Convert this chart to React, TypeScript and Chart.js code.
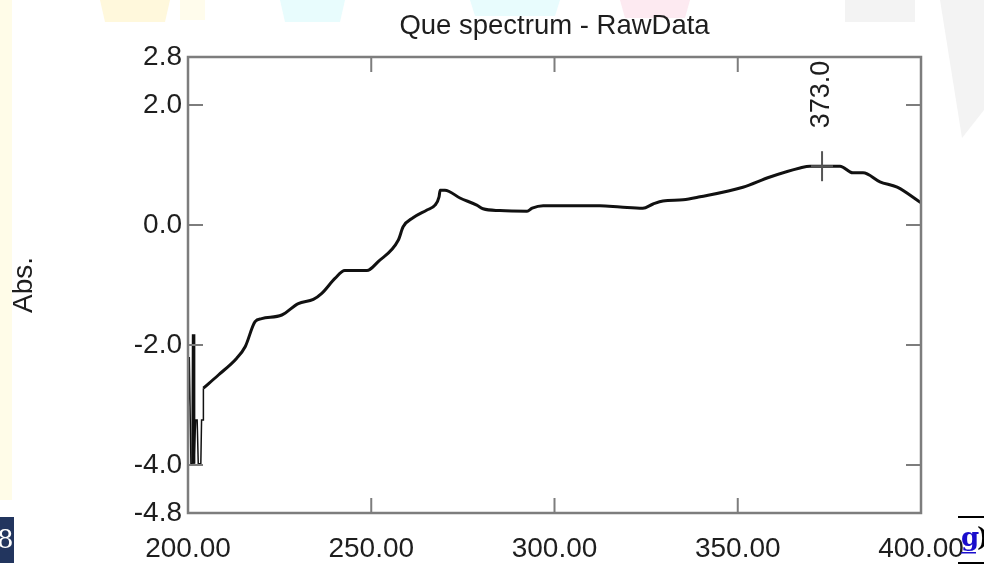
import React, { useEffect, useRef } from 'react';
import { Chart, registerables } from 'chart.js';

Chart.register(...registerables);

// ---------- data ----------
const chartTitle = 'Que spectrum - RawData';
const yAxisTitle = 'Abs.';

const mainWavelengths = [
  204.2, 208.3, 213.3, 215.6, 218.3, 220.1, 225.6, 230.1, 234.2, 236.5,
  240.1, 242.8, 248.8, 251.9, 257.4, 258.7, 261.4, 265.2, 267.4, 268.5,
  268.8, 270.1, 274.2, 278.8, 280.5, 285.1, 292.5, 293.9, 296.9, 312.4,
  317.9, 324.1, 326.9, 329.6, 335.1, 339.7, 351.4, 358.8, 367.0, 369.7,
  377.9, 381.4, 384.2, 388.8, 393.5, 400.0,
];
const mainAbs = [
  -2.72, -2.5, -2.22, -2.03, -1.61, -1.56, -1.5, -1.31, -1.24, -1.14,
  -0.89, -0.76, -0.76, -0.61, -0.25, -0.03, 0.12, 0.25, 0.33, 0.47,
  0.58, 0.58, 0.45, 0.33, 0.27, 0.24, 0.23, 0.28, 0.32, 0.32,
  0.3, 0.28, 0.35, 0.4, 0.42, 0.47, 0.63, 0.8, 0.95, 0.98,
  0.98, 0.87, 0.87, 0.72, 0.63, 0.37,
];

const noiseWavelengths = [
  200.0, 200.35, 200.8, 201.3, 201.45, 201.6, 202.1, 202.5, 202.8, 203.5,
  203.7, 204.1, 204.2,
];
const noiseAbs = [
  -3.25, -2.2, -3.98, -3.98, -1.82, -3.98, -3.25, -3.25, -3.98, -3.98,
  -3.25, -3.25, -2.72,
];

const xTickValues = [200, 250, 300, 350, 400];
const xTickLabels = ['200.00', '250.00', '300.00', '350.00', '400.00'];
const yTickValues = [-4.8, -4.0, -2.0, 0.0, 2.0, 2.8];
const yTickLabels = ['-4.8', '-4.0', '-2.0', '0.0', '2.0', '2.8'];
const innerTickX = [250, 300, 350];
const innerTickY = [-4.0, -2.0, 0.0, 2.0];

const peakWavelength = 373.0;
const peakAbs = 0.98;
const peakLabel = '373.0';

const FONT = "'Liberation Sans', Arial, Helvetica, sans-serif";

function line(ctx: CanvasRenderingContext2D, x1: number, y1: number, x2: number, y2: number) {
  ctx.beginPath();
  ctx.moveTo(x1, y1);
  ctx.lineTo(x2, y2);
  ctx.stroke();
}

const decorPlugin = {
  id: 'decor',
  beforeDraw(chart: any) {
    const { ctx, width, height } = chart;
    ctx.save();
    ctx.fillStyle = '#ffffff';
    ctx.fillRect(0, 0, width, height);
    // faint background shapes from the original screenshot
    const shapes: [string, number[][]][] = [
      ['#fffce8', [[0, 0], [12, 0], [12, 500], [0, 500]]],
      ['#fff8dc', [[100, 0], [170, 0], [165, 22], [105, 22]]],
      ['#fffcec', [[180, 0], [205, 0], [205, 20], [180, 20]]],
      ['#e8fcfd', [[280, 0], [345, 0], [340, 22], [285, 22]]],
      ['#e8fcfd', [[470, 0], [560, 0], [555, 16], [475, 16]]],
      ['#fdeaf1', [[620, 0], [690, 0], [685, 18], [625, 18]]],
      ['#f3f3f3', [[845, 0], [915, 0], [915, 22], [845, 22]]],
      ['#f3f3f3', [[940, 0], [984, 0], [984, 110], [962, 138]]],
    ];
    shapes.forEach(([c, pts]) => {
      ctx.fillStyle = c;
      ctx.beginPath();
      pts.forEach(([px, py], i) => (i ? ctx.lineTo(px, py) : ctx.moveTo(px, py)));
      ctx.closePath();
      ctx.fill();
    });
    ctx.restore();
  },
  afterDraw(chart: any) {
    const { ctx } = chart;
    ctx.save();
    // bottom-left navy tag
    ctx.fillStyle = '#22355e';
    ctx.fillRect(0, 517, 14, 46);
    ctx.fillStyle = '#ffffff';
    ctx.font = "26px 'DejaVu Serif', serif";
    ctx.textBaseline = 'middle';
    ctx.textAlign = 'left';
    ctx.fillText('8', -3, 541);
    // bottom-right link fragment
    ctx.strokeStyle = '#000';
    ctx.lineWidth = 2;
    line(ctx, 958, 517, 984, 517);
    line(ctx, 958, 563, 984, 563);
    ctx.fillStyle = '#1a0dcc';
    ctx.font = "bold 26px 'DejaVu Serif', serif";
    ctx.fillText('g', 961, 539);
    ctx.fillRect(961, 552, 15, 1.5);
    ctx.fillStyle = '#000';
    ctx.fillText(')', 977, 539);
    ctx.restore();
  },
};

const framePlugin = {
  id: 'frame',
  afterDatasetsDraw(chart: any) {
    const { ctx, chartArea: a, scales } = chart;
    const x = scales.x;
    const y = scales.y;
    ctx.save();
    ctx.strokeStyle = '#7d7d7d';
    ctx.lineWidth = 2.5;
    ctx.strokeRect(a.left, a.top, a.right - a.left, a.bottom - a.top);
    ctx.lineWidth = 2;
    innerTickY.forEach((v) => {
      const py = y.getPixelForValue(v);
      line(ctx, a.left, py, a.left + 15, py);
      line(ctx, a.right - 15, py, a.right, py);
    });
    innerTickX.forEach((v) => {
      const px = x.getPixelForValue(v);
      line(ctx, px, a.top, px, a.top + 15);
      line(ctx, px, a.bottom - 15, px, a.bottom);
    });
    // peak marker
    const px = x.getPixelForValue(peakWavelength);
    const py = y.getPixelForValue(peakAbs);
    ctx.strokeStyle = '#555';
    ctx.lineWidth = 2;
    line(ctx, px, py - 15, px, py + 15);
    line(ctx, px - 11, py, px + 11, py);
    ctx.translate(px, py - 38);
    ctx.rotate(-Math.PI / 2);
    ctx.font = `27px ${FONT}`;
    ctx.textAlign = 'left';
    ctx.textBaseline = 'middle';
    ctx.fillStyle = '#1e1e1e';
    ctx.fillText(peakLabel, 0, 0);
    ctx.restore();
  },
};

export default function App() {
  const canvasRef = useRef<HTMLCanvasElement | null>(null);

  useEffect(() => {
    if (!canvasRef.current) return;
    const chart = new Chart(canvasRef.current, {
      type: 'line',
      data: {
        datasets: [
          {
            label: 'noise',
            data: noiseWavelengths.map((w, i) => ({ x: w, y: noiseAbs[i] })),
            borderColor: '#111',
            borderWidth: 1.5,
            pointRadius: 0,
            tension: 0,
            segment: {
              borderWidth: (c: any) => (c.p0DataIndex === 3 || c.p0DataIndex === 4 ? 3 : 1.5),
            },
          },
          {
            label: 'Abs',
            data: mainWavelengths.map((w, i) => ({ x: w, y: mainAbs[i] })),
            borderColor: '#111',
            borderWidth: 3,
            pointRadius: 0,
            cubicInterpolationMode: 'monotone',
            borderJoinStyle: 'round',
          },
        ],
      },
      options: {
        animation: false,
        responsive: true,
        maintainAspectRatio: false,
        layout: { padding: { left: 0, right: 63, top: 0, bottom: 0 } },
        plugins: {
          legend: { display: false },
          tooltip: { enabled: false },
          title: {
            display: true,
            text: chartTitle,
            fullSize: false,
            color: '#1e1e1e',
            font: { family: FONT, size: 27.5, weight: 'normal' },
            padding: { top: 10, bottom: 14 },
          },
        },
        scales: {
          x: {
            type: 'linear',
            min: 200,
            max: 400,
            grid: { display: false, drawTicks: false },
            border: { display: false },
            afterBuildTicks: (s: any) => {
              s.ticks = xTickValues.map((v) => ({ value: v }));
            },
            afterFit: (s: any) => {
              s.height = 54;
            },
            ticks: {
              autoSkip: false,
              maxRotation: 0,
              minRotation: 0,
              padding: 19,
              color: '#1e1e1e',
              font: { family: FONT, size: 28 },
              callback: (v: any) => xTickLabels[xTickValues.indexOf(Number(v))],
            },
          },
          y: {
            type: 'linear',
            min: -4.8,
            max: 2.8,
            grid: { display: false, drawTicks: false },
            border: { display: false },
            afterBuildTicks: (s: any) => {
              s.ticks = yTickValues.map((v) => ({ value: v }));
            },
            afterFit: (s: any) => {
              s.width = 188;
            },
            ticks: {
              autoSkip: false,
              padding: 6,
              color: '#1e1e1e',
              font: { family: FONT, size: 28 },
              callback: (v: any) => yTickLabels[yTickValues.indexOf(Number(v))],
            },
            title: {
              display: true,
              text: yAxisTitle,
              color: '#1e1e1e',
              font: { family: FONT, size: 28 },
              padding: { top: 7, bottom: 0 },
            },
          },
        },
      },
      plugins: [decorPlugin, framePlugin],
    });
    return () => chart.destroy();
  }, []);

  return (
    <div style={{ position: 'fixed', left: 0, top: 0, width: 984, height: 567, background: '#fff' }}>
      <canvas ref={canvasRef} />
    </div>
  );
}
